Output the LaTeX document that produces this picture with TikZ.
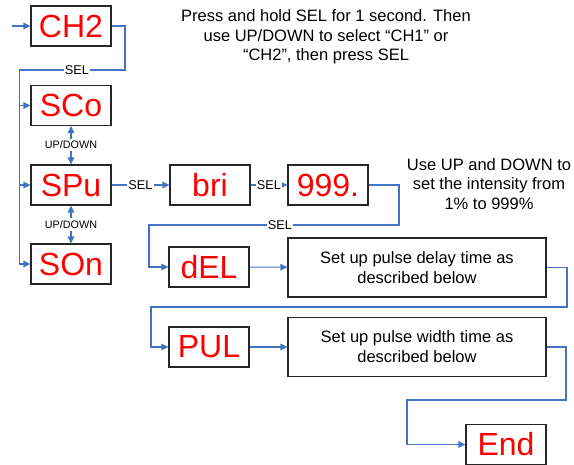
\documentclass[tikz,border=0pt]{standalone}
\usepackage{fontspec}
\setmainfont{Liberation Sans}
\usepackage{color}
\usetikzlibrary{arrows,%
                arrows.meta,%
                petri}
\definecolor{linkblue}{RGB}{68,114,196}

\begin{document}
\begin{tikzpicture}[x=1pt,y=-1pt]
		\useasboundingbox (0,0) rectangle (574,465);
		\tikzset{DisplayStyle/.style = {draw=black!85,line width=1.1pt,minimum width=80pt,minimum height=40pt,inner sep=0pt,text=red,font=\fontsize{32}{36}\selectfont}}
		\tikzset{BoxStyle/.style = {draw=black!85,line width=1.1pt,minimum width=258pt,minimum height=59pt,inner sep=0pt,align=center,font=\fontsize{16.5}{20}\selectfont}}
		\tikzset{NoteStyle/.style = {align=center,inner sep=0pt,font=\fontsize{16.5}{19.5}\selectfont}}
		\tikzset{SelStyle/.style = {fill=white,inner sep=1.2pt,font=\fontsize{12.7}{14}\selectfont}}
		\tikzset{UpDownStyle/.style = {inner sep=2pt,font=\fontsize{10.8}{12}\selectfont}}
		\tikzset{EdgeStyle/.style = {post,>={Triangle[length=7pt,width=6.5pt]},shorten >=0pt,draw=linkblue,line width=1.1pt}}
		% displays
		\node[DisplayStyle] (CH2) at (71,26) {CH2};
		\node[DisplayStyle] (SCo) at (71,105.5) {SCo};
		\node[DisplayStyle] (SPu) at (71,185) {SPu};
		\node[DisplayStyle] (SOn) at (71,264) {SOn};
		\node[DisplayStyle] (bri) at (210,185) {bri};
		\node[DisplayStyle] (nine) at (328,185) {999.};
		\node[DisplayStyle] (dEL) at (209,267) {dEL};
		\node[DisplayStyle] (PUL) at (209,347) {PUL};
		\node[DisplayStyle] (End) at (506,444.5) {End};
		%\node[DisplayStyle] (CH1) at (71,26) {CH1};
		\node[BoxStyle] (delaybox) at (417,267.5) {Set up pulse delay time as\\described below};
		\node[BoxStyle] (widthbox) at (417,347) {Set up pulse width time as\\described below};
		\node[NoteStyle] (pressnote) at (326,37) {Press and hold SEL for 1 second. Then\\use UP/DOWN to select “CH1” or\\“CH2”, then press SEL};
		\node[NoteStyle] (intnote) at (489,184) {Use UP and DOWN to\\set the intensity from\\1\% to 999\%};
		\node[UpDownStyle] (ud1) at (71,145) {UP/DOWN};
		\node[UpDownStyle] (ud2) at (71,224.5) {UP/DOWN};
		\coordinate (in) at (12,26);
		\coordinate (chR) at (125,70);
		\coordinate (chL) at (19.5,70);
		\coordinate (nineR) at (399,225);
		\coordinate (nineL) at (149,225);
		\coordinate (delR) at (567,307);
		\coordinate (delL) at (151,307);
		\coordinate (widR) at (566,400);
		\coordinate (widL) at (407,400);
		% connectors
		\draw[EdgeStyle] (in) -- (CH2);
		\draw[EdgeStyle] (CH2) -| (chR) -- node[SelStyle,pos=0.455]{SEL} (chL) |- (SOn);
		\draw[EdgeStyle] (chL) |- (SCo);
		\draw[EdgeStyle] (chL) |- (SPu);
		\draw[EdgeStyle] (ud1) -- (SCo);
		\draw[EdgeStyle] (ud1) -- (SPu);
		\draw[EdgeStyle] (ud2) -- (SPu);
		\draw[EdgeStyle] (ud2) -- (SOn);
		\draw[EdgeStyle] (SPu) -- node[SelStyle]{SEL} (bri);
		\draw[EdgeStyle] (bri) -- node[SelStyle]{SEL} (nine);
		\draw[EdgeStyle] (nine) -| (nineR) -- node[SelStyle,pos=0.476]{SEL} (nineL) |- (dEL);
		\draw[EdgeStyle] (dEL) -- (delaybox);
		\draw[EdgeStyle] (delaybox) -| (delR) -- (delL) |- (PUL);
		\draw[EdgeStyle] (PUL) -- (widthbox);
		\draw[EdgeStyle] (widthbox) -| (widR) -- (widL) |- (End);
	\end{tikzpicture}
\end{document}
